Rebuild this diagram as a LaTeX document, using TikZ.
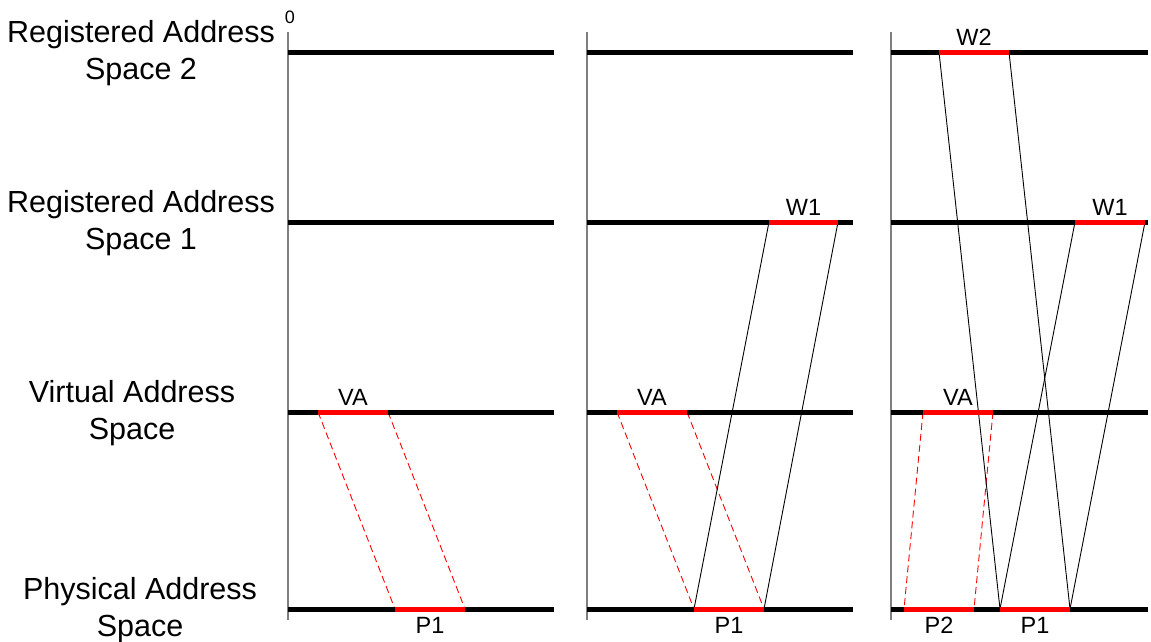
\documentclass[tikz,border=0pt]{standalone}
\usepackage{fontspec}
\setmainfont{Liberation Sans}
\usetikzlibrary{positioning, calc}
\definecolor{segred}{HTML}{FF0000}
\definecolor{axisgray}{HTML}{7F7F7F}

\tikzset{
  rowline/.style={line width=5pt, black},
  segment/.style={line width=5pt, segred},
  axisline/.style={line width=1.3pt, axisgray},
  mapline/.style={line width=0.9pt, black},
  vamap/.style={line width=0.9pt, segred, dash pattern=on 7pt off 4pt},
  rowlabel/.style={font=\fontsize{30.5}{37}\selectfont, align=center, inner sep=0pt},
  seglabel/.style={font=\fontsize{23.5}{25}\selectfont, inner sep=0pt},
}

\begin{document}
\begin{tikzpicture}[x=1pt, y=-1pt]
    \useasboundingbox (0,0) rectangle (1151,641);

    % row names
    \node[rowlabel] (ras2) at (141,53) {Registered Address\\Space 2};
    \node[rowlabel] (ras1) at (141,223) {Registered Address\\Space 1};
    \node[rowlabel] (vas) at (132,413) {Virtual Address\\Space};
    \node[rowlabel] (pas) at (140,610) {Physical Address\\Space};
    \node[font=\fontsize{18}{19}\selectfont, inner sep=0pt] (zero) at (290,17) {0};

    % axes
    \coordinate (top1) at (288,32);  \coordinate (bot1) at (288,620);
    \coordinate (top2) at (587,32);  \coordinate (bot2) at (587,620);
    \coordinate (top3) at (891,32);  \coordinate (bot3) at (891,620);
    \draw[axisline] (top1) -- (bot1);
    \draw[axisline] (top2) -- (bot2);
    \draw[axisline] (top3) -- (bot3);

    % segment ends
    \coordinate (va1a) at (318,412);  \coordinate (va1b) at (388,412);
    \coordinate (pa1a) at (395,609);  \coordinate (pa1b) at (465,609);
    \coordinate (va2a) at (617,412);  \coordinate (va2b) at (687,412);
    \coordinate (pa2a) at (694,609);  \coordinate (pa2b) at (764,609);
    \coordinate (wa2a) at (769,222);  \coordinate (wa2b) at (838,222);
    \coordinate (va3a) at (923,412);  \coordinate (va3b) at (993,412);
    \coordinate (pb3a) at (904,609);  \coordinate (pb3b) at (974,609);
    \coordinate (pa3a) at (1000,609); \coordinate (pa3b) at (1070,609);
    \coordinate (wa3a) at (1075,222); \coordinate (wa3b) at (1145,222);
    \coordinate (wb3a) at (939,52);   \coordinate (wb3b) at (1009,52);

    % mappings
    \draw[vamap] (va1a) -- (pa1a);
    \draw[vamap] (va1b) -- (pa1b);
    \draw[vamap] (va2a) -- (pa2a);
    \draw[vamap] (va2b) -- (pa2b);
    \draw[mapline] (wa2a) -- (pa2a);
    \draw[mapline] (wa2b) -- (pa2b);
    \draw[vamap] (va3a) -- (pb3a);
    \draw[vamap] (va3b) -- (pb3b);
    \draw[mapline] (wa3a) -- (pa3a);
    \draw[mapline] (wa3b) -- (pa3b);
    \draw[mapline] (wb3a) -- (pa3a);
    \draw[mapline] (wb3b) -- (pa3b);

    % address spaces
    \draw[rowline] (288,52) -- (554,52);
    \draw[rowline] (288,222) -- (554,222);
    \draw[rowline] (288,412) -- (554,412);
    \draw[rowline] (288,609) -- (554,609);
    \draw[rowline] (587,52) -- (853,52);
    \draw[rowline] (587,222) -- (853,222);
    \draw[rowline] (587,412) -- (853,412);
    \draw[rowline] (587,609) -- (853,609);
    \draw[rowline] (891,52) -- (1148,52);
    \draw[rowline] (891,222) -- (1148,222);
    \draw[rowline] (891,412) -- (1148,412);
    \draw[rowline] (891,609) -- (1148,609);

    % mapped regions
    \draw[segment] (va1a) -- (va1b);
    \draw[segment] (pa1a) -- (pa1b);
    \draw[segment] (va2a) -- (va2b);
    \draw[segment] (pa2a) -- (pa2b);
    \draw[segment] (wa2a) -- (wa2b);
    \draw[segment] (va3a) -- (va3b);
    \draw[segment] (pb3a) -- (pb3b);
    \draw[segment] (pa3a) -- (pa3b);
    \draw[segment] (wa3a) -- (wa3b);
    \draw[segment] (wb3a) -- (wb3b);

    \node[seglabel, above=6pt] (lva1) at ($(va1a)!0.5!(va1b)$) {VA};
    \node[seglabel, above=6pt] (lva2) at ($(va2a)!0.5!(va2b)$) {VA};
    \node[seglabel, above=6pt] (lva3) at ($(va3a)!0.5!(va3b)$) {VA};
    \node[seglabel, above=6pt] (lw12) at ($(wa2a)!0.5!(wa2b)$) {W1};
    \node[seglabel, above=6pt] (lw13) at ($(wa3a)!0.5!(wa3b)$) {W1};
    \node[seglabel, above=6pt] (lw23) at ($(wb3a)!0.5!(wb3b)$) {W2};
    \node[seglabel, below=8pt] (lp11) at ($(pa1a)!0.5!(pa1b)$) {P1};
    \node[seglabel, below=8pt] (lp12) at ($(pa2a)!0.5!(pa2b)$) {P1};
    \node[seglabel, below=8pt] (lp23) at ($(pb3a)!0.5!(pb3b)$) {P2};
    \node[seglabel, below=8pt] (lp13) at ($(pa3a)!0.5!(pa3b)$) {P1};
\end{tikzpicture}
\end{document}
